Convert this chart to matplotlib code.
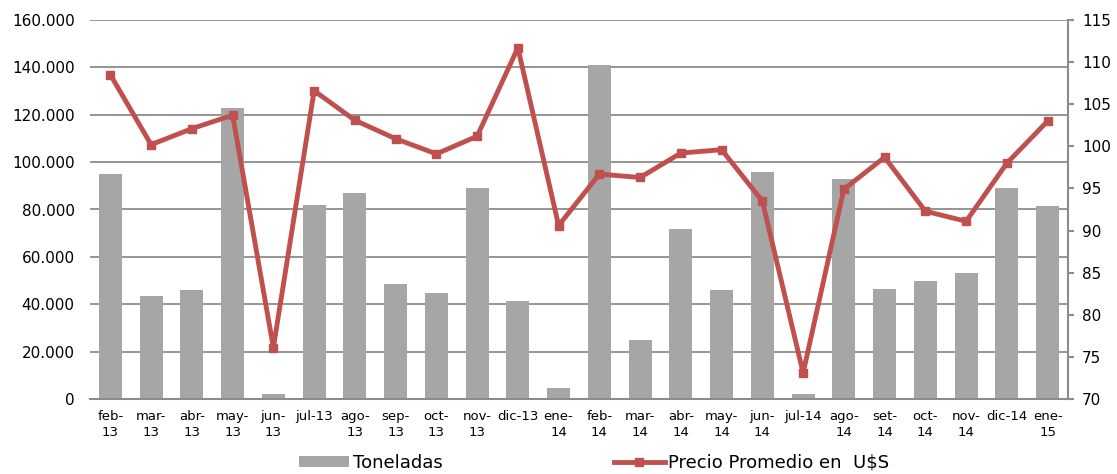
import numpy as np
import matplotlib.pyplot as plt
from matplotlib.ticker import FuncFormatter

months = ['feb-\n13', 'mar-\n13', 'abr-\n13', 'may-\n13', 'jun-\n13', 'jul-13', 'ago-\n13', 'sep-\n13',
          'oct-\n13', 'nov-\n13', 'dic-13', 'ene-\n14', 'feb-\n14', 'mar-\n14', 'abr-\n14', 'may-\n14',
          'jun-\n14', 'jul-14', 'ago-\n14', 'set-\n14', 'oct-\n14', 'nov-\n14', 'dic-14', 'ene-\n15']
toneladas = [94800, 43500, 46000, 122800, 2100, 81800, 86900, 48400, 44800, 89000, 41400, 4600,
             141000, 25000, 71800, 46000, 95900, 2100, 92900, 46400, 49800, 53200, 89100, 81500]
precio = [108.5, 100.2, 102.1, 103.7, 76.1, 106.6, 103.1, 100.9, 99.1, 101.2, 111.7, 90.6,
          96.7, 96.3, 99.2, 99.6, 93.5, 73.1, 94.9, 98.7, 92.3, 91.1, 98.0, 103.0]

grid_gray = '#8c8c8c'
bar_gray = '#a6a6a6'
red = '#c0504d'

fig = plt.figure(figsize=(11.17, 4.74), dpi=100)
ax = fig.add_axes([90 / 1117, 1 - 399 / 474, 978 / 1117, 379 / 474])
x = np.arange(len(months))

ax.bar(x, toneladas, width=0.57, color=bar_gray, zorder=2, label='Toneladas')
ax.set_xlim(-0.5, len(months) - 0.5)
ax.set_ylim(0, 160000)
ax.set_yticks(np.arange(0, 160001, 20000))
ax.yaxis.set_major_formatter(FuncFormatter(lambda v, p: f'{int(v):,}'.replace(',', '.')))
ax.grid(axis='y', color=grid_gray, linewidth=1.3, zorder=0)
ax.set_axisbelow(True)
ax.set_xticks(x)
ax.set_xticklabels(months, fontsize=9.5, linespacing=1.25)
ax.tick_params(axis='x', length=0, pad=8)
ax.tick_params(axis='y', length=0, labelsize=11, pad=11)
for s in ['top', 'left', 'right']:
    ax.spines[s].set_visible(False)
ax.spines['bottom'].set_color(grid_gray)
ax.spines['bottom'].set_linewidth(1.5)

ax2 = ax.twinx()
ax2.plot(x, precio, color=red, linewidth=3.5, marker='s', markersize=6, label='Precio Promedio en  U$S')
ax2.set_ylim(70, 115)
ax2.set_yticks(np.arange(70, 116, 5))
ax2.tick_params(axis='y', direction='out', length=4, color=grid_gray, width=1.5, labelsize=11, pad=6)
for s in ['top', 'left', 'bottom']:
    ax2.spines[s].set_visible(False)
ax2.spines['right'].set_color(grid_gray)
ax2.spines['right'].set_linewidth(1.5)

h1, l1 = ax.get_legend_handles_labels()
h2, l2 = ax2.get_legend_handles_labels()
fig.legend(h1 + h2, l1 + l2, loc='lower center', bbox_to_anchor=(594 / 1117, -0.03), ncol=2,
           frameon=False, fontsize=13, handlelength=2.8, handleheight=0.5, handletextpad=0.2,
           columnspacing=9.5)

fig.savefig('out.png', dpi=100)
